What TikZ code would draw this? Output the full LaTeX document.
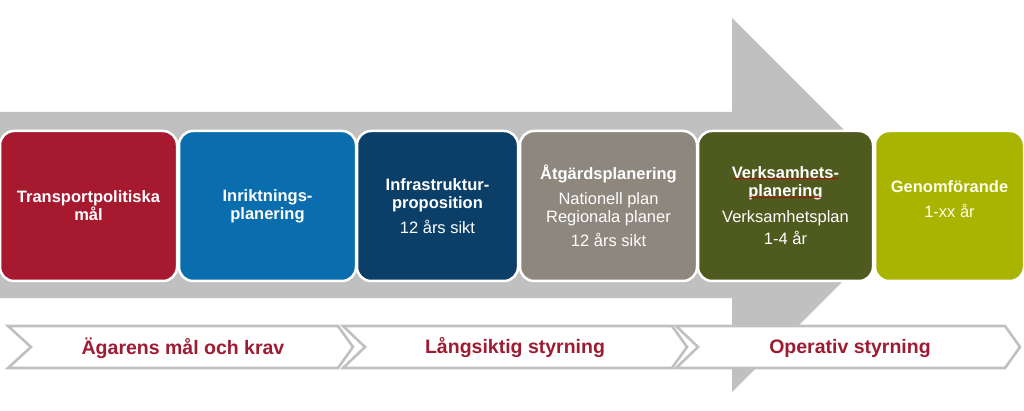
\documentclass[tikz,border=0pt]{standalone}
\usepackage{fontspec}
\setmainfont{Liberation Sans}
\usetikzlibrary{decorations.pathmorphing}
\definecolor{pilgra}{HTML}{C0C0C0}
\definecolor{malrod}{HTML}{A6192E}
\definecolor{inrbla}{HTML}{0A6EAE}
\definecolor{infbla}{HTML}{0B3F68}
\definecolor{atggra}{HTML}{8D877E}
\definecolor{verkgron}{HTML}{4F5A1F}
\definecolor{genlime}{HTML}{A8B400}
\definecolor{textrod}{HTML}{9E1B32}
\tikzset{
  stage/.style={draw=white, line width=2.5pt, rounded corners=14pt,
    minimum height=150pt, inner sep=0pt, align=center, text=white,
    font=\fontsize{16.5}{18}\selectfont},
  phase/.style={draw=pilgra, fill=white, line width=2.6pt, line join=miter},
  phasetext/.style={text=textrod, font=\bfseries\fontsize{19.5}{22}\selectfont, inner sep=0pt},
  stavfel/.style={draw=red!75!black, line width=0.5pt,
    decorate, decoration={snake, amplitude=0.5pt, segment length=2.5pt}}
}
\begin{document}
\begin{tikzpicture}[x=1pt, y=-1pt]
\useasboundingbox (0,0) rectangle (1024,411);
\fill[pilgra] (0,112) -- (732,112) -- (732,18) -- (919,205) -- (732,392) -- (732,298) -- (0,298) -- cycle;
\node[stage, fill=malrod, minimum width=177pt] (mal) at (88.5,206) {\textbf{Transportpolitiska}\\\textbf{mål}};
\node[stage, fill=inrbla, minimum width=177pt] (inr) at (267.5,206) {\textbf{Inriktnings-}\\\textbf{planering}};
\node[stage, fill=infbla, minimum width=161pt] (inf) at (437.5,206) {\textbf{Infrastruktur-}\\\textbf{proposition}\\[7pt]12 års sikt};
\node[stage, fill=atggra, minimum width=177pt] (atg) at (608.5,206) {\textbf{Åtgärdsplanering}\\[7pt]Nationell plan\\Regionala planer\\[6pt]12 års sikt};
\node[stage, fill=verkgron, minimum width=175pt] (verk) at (785.5,206) {\textbf{Verksamhets-}\\\textbf{planering}\\[8pt]Verksamhetsplan\\[4pt]1-4 år};
\node[stage, fill=genlime, minimum width=149pt, text=yellow!8] (gen) at (949.5,206) {\textbf{Genomförande}\\[7pt]1-xx år\\[-5pt]{}};
\draw[stavfel] (733,178.5) -- (838,178.5);
\draw[stavfel] (749,197.5) -- (821,197.5);
\draw[phase] (8,326) -- (338,326) -- (353,347) -- (338,368) -- (8,368) -- (31,347) -- cycle;
\draw[phase] (343,326) -- (672,326) -- (687,347) -- (672,368) -- (343,368) -- (365,347) -- cycle;
\draw[phase] (676,326) -- (1005,326) -- (1020,347) -- (1005,368) -- (676,368) -- (698,347) -- cycle;
\node[phasetext] (agare) at (183,348) {Ägarens mål och krav};
\node[phasetext] (lang) at (515,348) {Långsiktig styrning};
\node[phasetext] (oper) at (850,348) {Operativ styrning};
\end{tikzpicture}
\end{document}
